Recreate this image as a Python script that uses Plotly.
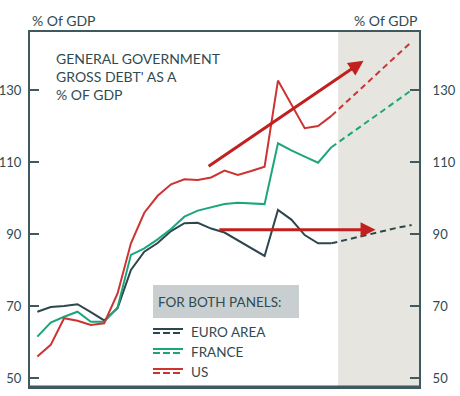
import plotly.graph_objects as go

# ---- data ----
years = list(range(2002, 2025))
euro_area = [68.4, 69.7, 70.0, 70.5, 68.3, 66.0, 69.4, 80.0, 85.1, 87.5, 90.8, 93.0,
             93.1, 91.5, 90.4, 88.2, 86.1, 83.9, 96.7, 94.0, 89.7, 87.4, 87.4]
france = [61.5, 65.4, 67.0, 68.4, 65.6, 65.6, 69.6, 84.2, 86.0, 88.5, 91.4, 94.8,
          96.5, 97.4, 98.3, 98.7, 98.5, 98.3, 115.2, 113.2, 111.5, 109.8, 114.1]
us = [56.0, 59.2, 66.6, 65.9, 64.7, 65.2, 73.5, 87.4, 95.9, 100.6, 103.8, 105.2,
      105.0, 105.7, 107.6, 106.4, 107.5, 108.7, 132.6, 126.0, 119.4, 120.0, 122.8]

proj_years = list(range(2024, 2031))
euro_area_proj = [87.4, 88.3, 89.3, 90.2, 91.0, 91.8, 92.5]
france_proj = [114.1, 116.7, 119.4, 122.0, 124.7, 127.3, 130.0]
us_proj = [122.8, 126.2, 129.7, 133.1, 136.5, 140.0, 143.4]

tick_vals = [50, 70, 90, 110, 130]
series_names = ["EURO AREA", "FRANCE", "US"]

# arrows: (tail_year, tail_value, tip_year, tip_value)
arrow_up = (2014.7, 108.5, 2026.4, 138.1)
arrow_flat = (2015.5, 91.2, 2027.3, 91.2)

# ---- styles ----
C_EA = "#2c474d"
C_FR = "#1ca57c"
C_US = "#cc3434"
C_ARROW = "#c21f1f"
C_AXIS = "#3e5a60"
C_TEXT = "#2f4b51"
FONT = "Lato"

fig = go.Figure()

for ys, yp, col, name in [(euro_area, euro_area_proj, C_EA, series_names[0]),
                          (france, france_proj, C_FR, series_names[1]),
                          (us, us_proj, C_US, series_names[2])]:
    fig.add_trace(go.Scatter(x=years, y=ys, mode="lines", name=name,
                             line=dict(color=col, width=2), showlegend=False))
    fig.add_trace(go.Scatter(x=proj_years, y=yp, mode="lines", name=name + " proj",
                             line=dict(color=col, width=2, dash="6px,4px"),
                             showlegend=False))

# dummy trace to anchor right axis
fig.add_trace(go.Scatter(x=[years[0]], y=[None], yaxis="y2", showlegend=False,
                         hoverinfo="skip"))

XR = [2001.45, 2030.55]
YR = [47.5, 146.1]

W, H = 460, 396
# plot area in page pixels
L, R, T, B = 30, 419, 32, 387

# projection shading
fig.add_shape(type="rect", xref="x", yref="paper", x0=2024.5, x1=XR[1], y0=0, y1=1,
              fillcolor="#e6e5df", line=dict(width=0), layer="below")

# arrows
for (x0, y0, x1, y1) in [arrow_up, arrow_flat]:
    fig.add_annotation(x=x1, y=y1, ax=x0, ay=y0, xref="x", yref="y", axref="x", ayref="y",
                       text="", showarrow=True, arrowhead=2, arrowsize=1,
                       arrowwidth=3, arrowcolor=C_ARROW, standoff=0)

def px(xp):
    return (xp - L) / (R - L)
def py(yp):
    return (B - yp) / (B - T)

# title text
fig.add_annotation(x=px(54), y=py(48), xref="paper", yref="paper", xanchor="left",
                   yanchor="top", align="left", showarrow=False,
                   text="GENERAL GOVERNMENT<br>GROSS DEBT' AS A<br>% OF GDP",
                   font=dict(family=FONT, size=14, color=C_TEXT))

# axis unit labels
fig.add_annotation(x=0, y=py(20), xref="paper", yref="paper", xanchor="left",
                   yanchor="middle", showarrow=False, text="% Of GDP",
                   font=dict(family=FONT, size=14, color=C_TEXT))
fig.add_annotation(x=1, y=py(20), xref="paper", yref="paper", xanchor="right",
                   yanchor="middle", showarrow=False, text="% Of GDP",
                   font=dict(family=FONT, size=14, color=C_TEXT))

# legend box
fig.add_shape(type="rect", xref="paper", yref="paper", x0=px(153), x1=px(299),
              y0=py(318), y1=py(285), fillcolor="#c9cfd1", line=dict(width=0))
fig.add_annotation(x=px(156), y=py(301.5), xref="paper", yref="paper", xanchor="left",
                   yanchor="middle", showarrow=False, text="FOR BOTH PANELS:",
                   font=dict(family=FONT, size=13.5, color=C_TEXT))
for name, col, yc in [(series_names[0], C_EA, 331), (series_names[1], C_FR, 351),
                      (series_names[2], C_US, 371)]:
    fig.add_shape(type="line", xref="paper", yref="paper", x0=px(153), x1=px(183),
                  y0=py(yc - 2), y1=py(yc - 2), line=dict(color=col, width=2))
    fig.add_shape(type="line", xref="paper", yref="paper", x0=px(153), x1=px(183),
                  y0=py(yc + 2), y1=py(yc + 2), line=dict(color=col, width=2, dash="7px,3px"))
    fig.add_annotation(x=px(189), y=py(yc + 0.5), xref="paper", yref="paper", xanchor="left",
                       yanchor="middle", showarrow=False, text=name,
                       font=dict(family=FONT, size=13.5, color=C_TEXT))

# thicker bottom line
fig.add_shape(type="line", xref="paper", yref="paper", x0=0, x1=1, y0=0, y1=0,
              line=dict(color=C_AXIS, width=3))

fig.update_layout(
    width=W, height=H,
    margin=dict(l=L, r=W - R, t=T, b=H - B, autoexpand=False),
    paper_bgcolor="white", plot_bgcolor="white",
    font=dict(family=FONT, color=C_TEXT),
    hovermode=False,
    xaxis=dict(range=XR, showgrid=False, zeroline=False, showticklabels=False,
               ticks="", showline=True, linecolor=C_AXIS, linewidth=2, mirror=True,
               automargin=False),
    yaxis=dict(range=YR, showgrid=False, zeroline=False, tickvals=tick_vals,
               ticks="inside", ticklen=9, tickwidth=2, tickcolor=C_AXIS,
               showline=True, linecolor=C_AXIS, linewidth=2,
               ticklabelstandoff=4, automargin=False,
               tickfont=dict(family=FONT, size=13, color=C_TEXT)),
    yaxis2=dict(range=YR, overlaying="y", side="right", showgrid=False, zeroline=False,
                tickvals=tick_vals, ticks="inside", ticklen=9, tickwidth=2,
                tickcolor=C_AXIS, showline=True, linecolor=C_AXIS, linewidth=2,
                ticklabelstandoff=9, automargin=False,
                tickfont=dict(family=FONT, size=13, color=C_TEXT)),
)

fig.write_html("out.html", config={"displayModeBar": False, "staticPlot": True},
               post_script="document.body.style.margin='0px';document.body.style.overflow='hidden';")
